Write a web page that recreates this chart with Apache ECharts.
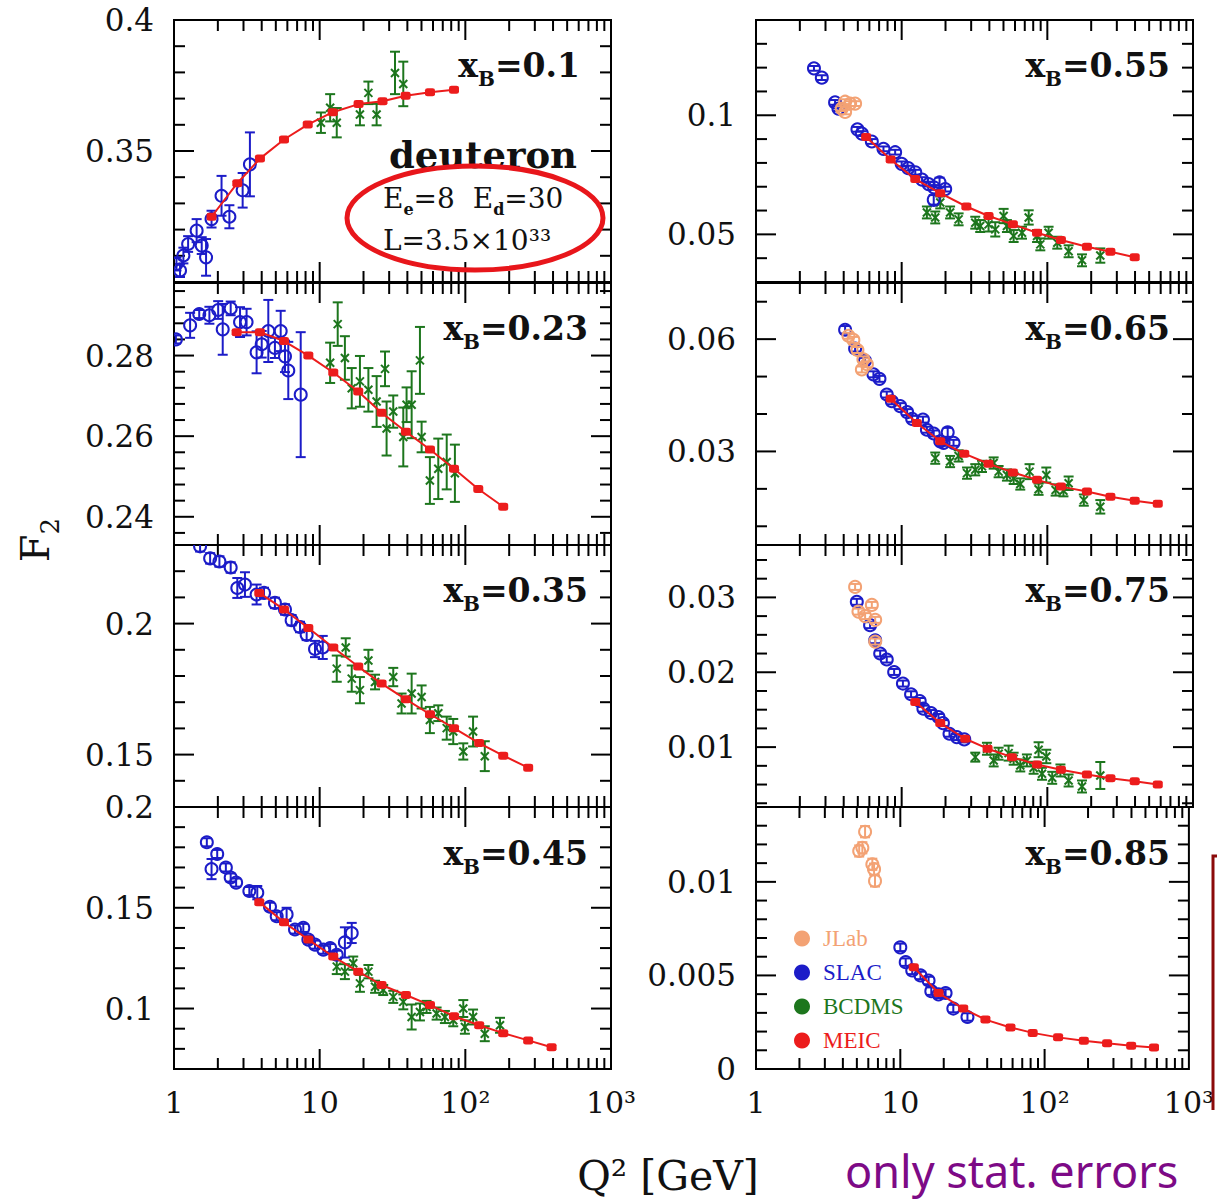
<!DOCTYPE html>
<html><head><meta charset="utf-8">
<script src="https://cdn.jsdelivr.net/npm/echarts@6/dist/echarts.min.js"></script>
<style>html,body{margin:0;padding:0;background:#fff}#c{width:1217px;height:1204px}</style>
</head><body><div id="c"></div><script>
// ---------------- DATA: [Q2, F2, stat.err] ----------------
const xTickLabels = ['1', '10', '10²', '10³'];
const panelNames = ['0.1', '0.23', '0.35', '0.45', '0.55', '0.65', '0.75', '0.85'];

// x_B = 0.1
const meicQ1 = [1.81, 2.72, 3.89, 5.69, 8.28, 12.3, 18.5, 27.0, 38.9, 57.2, 83.6];
const meicF1 = [0.3249, 0.3377, 0.3471, 0.3544, 0.3601, 0.3648, 0.3679, 0.3690, 0.3711, 0.3724, 0.3734];
const slac1 = [[1.04,0.3069,0.0025],[1.10,0.3044,0.0025],[1.16,0.3101,0.003],[1.25,0.3145,0.003],[1.43,0.3196,0.0044],[1.55,0.3139,0.0032],[1.66,0.3094,0.007],[1.81,0.324,0.0032],[2.12,0.3329,0.0076],[2.40,0.3249,0.0044],[2.96,0.335,0.0066],[3.32,0.3449,0.0122]];
const bcdms1 = [[10.2,0.3608,0.0039],[11.8,0.3665,0.0052],[13.1,0.3608,0.0056],[18.9,0.3639,0.0041],[21.6,0.3722,0.0043],[24.6,0.3639,0.0041],[32.9,0.3798,0.0081],[37.5,0.3756,0.0085]];
const jlab1 = [];

// x_B = 0.23
const meicQ2 = [2.69, 3.89, 5.69, 8.36, 12.4, 18.4, 26.6, 39.1, 57.2, 83.6, 122.7, 182];
const meicF2 = [0.2858, 0.2858, 0.2836, 0.2800, 0.2758, 0.2711, 0.2658, 0.2611, 0.2567, 0.2519, 0.2469, 0.2425];
const slac2 = [[1.03,0.2840,0.001],[1.29,0.2875,0.0031],[1.49,0.2903,0.001],[1.75,0.29,0.0021],[2.01,0.2913,0.0022],[2.16,0.2865,0.0063],[2.45,0.2917,0.0017],[2.84,0.2883,0.0037],[3.15,0.2883,0.0033],[3.69,0.2808,0.0052],[4.0,0.2828,0.0033],[4.44,0.2861,0.0077],[4.93,0.2819,0.0025],[5.4,0.2861,0.005],[5.78,0.2798,0.0039],[6.09,0.2763,0.0071],[7.41,0.2703,0.0155]];
const bcdms2 = [[11.8,0.2782,0.005],[13.3,0.2878,0.0054],[14.9,0.2794,0.0054],[16.6,0.2719,0.005],[18.9,0.2736,0.0063],[21.6,0.2715,0.0054],[24.6,0.2686,0.0063],[28.1,0.2767,0.0043],[28.8,0.2619,0.0067],[32,0.2661,0.004],[37.5,0.2598,0.0073],[39.5,0.2678,0.0043],[42.8,0.2678,0.0083],[48.8,0.2788,0.0083],[50.1,0.2598,0.0038],[57.1,0.249,0.0058],[65.2,0.2519,0.0075],[74.5,0.2536,0.0068],[84.8,0.2508,0.0071]];
const jlab2 = [];

// x_B = 0.35
const meicQ3 = [3.85, 5.69, 8.36, 12.4, 18.4, 26.6, 39.1, 57.2, 83.6, 124.5, 182, 270];
const meicF3 = [0.2117, 0.2054, 0.1983, 0.1909, 0.1836, 0.1771, 0.1711, 0.1654, 0.1601, 0.1544, 0.1496, 0.1450];
const slac3 = [[1.51,0.2295,0.002],[1.77,0.2249,0.002],[2.05,0.2237,0.002],[2.45,0.2214,0.002],[2.72,0.2136,0.0038],[3.07,0.2149,0.0047],[3.69,0.2111,0.0038],[4.15,0.2117,0.002],[4.93,0.2079,0.002],[5.78,0.2054,0.002],[6.42,0.2013,0.002],[7.33,0.1987,0.002],[8.14,0.1957,0.002],[9.29,0.1903,0.0031],[10.5,0.1909,0.0044]];
const bcdms3 = [[13.1,0.1828,0.005],[15.1,0.1909,0.0035],[16.6,0.1790,0.005],[18.9,0.1746,0.005],[21.6,0.1859,0.0041],[24.0,0.1777,0.0028],[32,0.1796,0.0035],[36.5,0.1695,0.0038],[42.8,0.1733,0.0076],[50.1,0.1720,0.0044],[57.1,0.1632,0.005],[65.2,0.1658,0.003],[74.5,0.1601,0.0044],[82.6,0.1588,0.0048],[96.8,0.1512,0.0031],[113,0.1588,0.0057],[136,0.1494,0.0057]];
const jlab3 = [];

// x_B = 0.45
const meicQ4 = [3.85, 5.69, 8.36, 12.4, 18.4, 26.6, 39.1, 57.2, 83.6, 124.5, 182, 270, 391];
const meicF4 = [0.1528, 0.1428, 0.1342, 0.1258, 0.1183, 0.1117, 0.1067, 0.1017, 0.0962, 0.0917, 0.0878, 0.0842, 0.0808];
const slac4 = [[1.68,0.1825,0.002],[1.81,0.1692,0.005],[1.98,0.1767,0.002],[2.27,0.17,0.002],[2.45,0.165,0.002],[2.67,0.1625,0.002],[3.29,0.1583,0.002],[3.73,0.1575,0.0033],[4.56,0.1505,0.002],[5.07,0.1458,0.002],[5.93,0.1467,0.0033],[6.77,0.1392,0.002],[7.72,0.14,0.002],[8.36,0.1342,0.002],[9.29,0.1317,0.002],[10.6,0.1292,0.002],[11.8,0.13,0.002],[13.1,0.1267,0.002],[14.9,0.1328,0.0075],[16.6,0.1375,0.005]];
const bcdms4 = [[13.1,0.1208,0.0037],[14.9,0.1183,0.0037],[17.0,0.1225,0.0033],[18.9,0.1125,0.0042],[21.6,0.1183,0.0033],[24.0,0.1108,0.003],[27.3,0.1092,0.0025],[32,0.1058,0.003],[37.5,0.1033,0.0037],[42.8,0.0958,0.0062],[48.8,0.0983,0.0042],[54.2,0.1008,0.003],[63.5,0.0975,0.003],[72.4,0.0958,0.003],[82.6,0.0942,0.003],[96.8,0.1,0.0042],[99.3,0.0908,0.0033],[113,0.0958,0.0037],[136,0.0875,0.0037],[173,0.0917,0.0037]];
const jlab4 = [];

// x_B = 0.55
const meicQ5 = [5.7, 8.4, 12.4, 18.4, 27.8, 39.5, 58, 85, 124, 187, 271, 398];
const meicF5 = [0.0909, 0.0814, 0.0732, 0.0673, 0.0617, 0.0577, 0.0542, 0.0507, 0.0476, 0.0448, 0.0427, 0.0404];
const slac5 = [[2.50,0.1197,0.001],[2.83,0.1158,0.001],[3.49,0.1054,0.001],[3.68,0.1028,0.001],[4.97,0.0941,0.001],[5.33,0.0923,0.001],[6.24,0.089,0.001],[7.50,0.0859,0.001],[9.02,0.0845,0.001],[10.0,0.0796,0.001],[11.1,0.0778,0.001],[12.4,0.0761,0.001],[13.8,0.073,0.001],[15.3,0.0711,0.001],[16.7,0.0697,0.001],[18.2,0.0718,0.002],[19.9,0.069,0.001],[16.6,0.0645,0.002]];
const jlab5 = [[4.09,0.1057,0.001],[4.43,0.1049,0.001],[4.79,0.1049,0.001],[3.88,0.1028,0.001],[4.09,0.1014,0.001]];
const bcdms5 = [[14.9,0.0592,0.0025],[17.0,0.0571,0.0025],[18.4,0.0634,0.0025],[21.5,0.0592,0.0025],[24.6,0.0563,0.0025],[32,0.0549,0.0025],[34.6,0.0535,0.0025],[39.5,0.0542,0.003],[43.9,0.0521,0.003],[50.1,0.0577,0.003],[52.8,0.0535,0.0025],[58.7,0.0493,0.0025],[67,0.0507,0.0025],[74.5,0.0571,0.003],[85,0.0493,0.0025],[89.5,0.0458,0.0025],[102,0.0507,0.0025],[117,0.0465,0.0025],[140,0.0429,0.0025],[173,0.0391,0.0025],[231,0.0411,0.003]];

// x_B = 0.65
const meicQ6 = [8.4, 12.7, 18.4, 26.9, 39.5, 58, 85, 124, 187, 271, 398, 573];
const meicF6 = [0.0441, 0.0376, 0.0327, 0.0294, 0.0267, 0.0244, 0.0224, 0.0206, 0.0193, 0.0179, 0.0168, 0.0160];
const slac6 = [[4.09,0.0625,0.001],[4.79,0.0575,0.0008],[5.6,0.0542,0.0008],[6.40,0.0506,0.0008],[7.04,0.0494,0.0008],[7.90,0.0452,0.0008],[8.56,0.0434,0.0008],[9.77,0.0421,0.0008],[10.9,0.0405,0.0008],[11.8,0.0387,0.0008],[14.0,0.0385,0.0008],[14.9,0.0358,0.0008],[16.6,0.0348,0.0008],[18.4,0.0327,0.0008],[20.7,0.0351,0.0012],[22.7,0.0323,0.0008],[19.4,0.0323,0.0008]];
const jlab6 = [[4.31,0.0609,0.0008],[4.66,0.0598,0.0008],[4.97,0.0571,0.0008],[5.46,0.0546,0.0008],[5.77,0.0533,0.0008],[5.33,0.0519,0.0008]];
const bcdms6 = [[17.0,0.0282,0.0015],[21.5,0.0273,0.0015],[24.6,0.0288,0.0015],[28.1,0.0242,0.0015],[32,0.0251,0.0015],[35.6,0.026,0.0015],[42.8,0.0269,0.0015],[46.3,0.0246,0.0015],[52.8,0.0237,0.0015],[58.7,0.0228,0.0015],[65.2,0.0213,0.0015],[75.5,0.0246,0.002],[87.1,0.0199,0.0015],[98.4,0.0237,0.002],[114,0.0197,0.0015],[129,0.0195,0.0015],[140,0.0215,0.0018],[178,0.017,0.0015],[231,0.0152,0.0018]];

// x_B = 0.75
const meicQ7 = [12.4, 18.4, 27.3, 38.9, 57.2, 85, 124, 187, 271, 398, 573];
const meicF7 = [0.01602, 0.01321, 0.01112, 0.00979, 0.00866, 0.00768, 0.00697, 0.00635, 0.00585, 0.00545, 0.00501];
const slac7 = [[4.92,0.02941,0.0004],[6.07,0.02629,0.0004],[6.58,0.02428,0.0004],[7.12,0.0225,0.0004],[7.90,0.0217,0.0004],[8.88,0.02004,0.0004],[10.2,0.01849,0.0004],[11.6,0.01706,0.0004],[13.3,0.01616,0.0004],[14.1,0.01514,0.0004],[15.9,0.01455,0.0004],[17.9,0.01402,0.0004],[19.2,0.01321,0.0004],[21.3,0.01179,0.0004],[23.9,0.01134,0.0004],[26.9,0.01103,0.0004]];
const jlab7 = [[4.79,0.0314,0.0004],[6.24,0.0290,0.0004],[5.05,0.0281,0.0004],[5.61,0.0275,0.0004],[6.58,0.0270,0.0004],[6.58,0.0241,0.0004]];
const bcdms7 = [[32,0.00866,0.0006],[38.5,0.00978,0.0008],[42.8,0.00822,0.0008],[46.3,0.00912,0.0008],[54.2,0.0092,0.001],[58.7,0.00845,0.0008],[65.2,0.00755,0.0008],[72.4,0.00822,0.0008],[80.5,0.00724,0.0008],[87.1,0.00965,0.001],[91.9,0.00644,0.0008],[98.4,0.00875,0.0009],[108,0.0059,0.0008],[123,0.00688,0.0008],[140,0.00554,0.0008],[173,0.00474,0.0008],[231,0.00621,0.0018]];

// x_B = 0.85
const meicQ8 = [12.4, 18.4, 27.3, 38.9, 58, 82.7, 124, 187, 271, 398, 573];
const meicF8 = [0.00544, 0.00406, 0.00323, 0.00264, 0.00222, 0.00193, 0.00169, 0.00151, 0.00137, 0.00124, 0.00115];
const slac8 = [[10.0,0.0065,0.0002],[10.9,0.00571,0.0002],[12.1,0.00527,0.0002],[13.8,0.005,0.0002],[15.7,0.00473,0.0002],[16.4,0.00416,0.0002],[18.4,0.00399,0.0002],[20.6,0.00406,0.0002],[23.3,0.00323,0.0002],[29.2,0.00278,0.0002]];
const jlab8 = [[5.70,0.01268,0.0003],[5.46,0.01182,0.0003],[5.19,0.01165,0.0003],[6.40,0.01094,0.0003],[6.58,0.01068,0.0003],[6.68,0.01005,0.0003]];
const bcdms8 = [];

// y axis ranges / tick labels per panel
const yMins   = [0.30, 0.233, 0.13, 0.07, 0.03, 0.005, 0.002, 0];
const yMaxs   = [0.40, 0.298, 0.23, 0.20, 0.14, 0.075, 0.037, 0.014];
const yLabels = [['0.35','0.4'], ['0.24','0.26','0.28'], ['0.15','0.2'], ['0.1','0.15','0.2'],
                 ['0.05','0.1'], ['0.03','0.06'], ['0.01','0.02','0.03'], ['0','0.005','0.01']];
const yLabelStep = [0.01, 0.001, 0.01, 0.01, 0.01, 0.005, 0.001, 0.001];
const yTickFrom  = [0.31, 0.236, 0.14, 0.08, 0.04, 0.01, 0.0025, 0.001];
const yTickTo    = [0.39, 0.296, 0.22, 0.19, 0.13, 0.07, 0.035, 0.013];
const yTickStep  = [0.01, 0.004, 0.01, 0.01, 0.01, 0.01, 0.0025, 0.001];
const yMajorStep = [0.05, 0.02, 0.05, 0.05, 0.05, 0.03, 0.01, 0.005];

const meicQ = [meicQ1, meicQ2, meicQ3, meicQ4, meicQ5, meicQ6, meicQ7, meicQ8];
const meicF = [meicF1, meicF2, meicF3, meicF4, meicF5, meicF6, meicF7, meicF8];
const slac  = [slac1, slac2, slac3, slac4, slac5, slac6, slac7, slac8];
const jlab  = [jlab1, jlab2, jlab3, jlab4, jlab5, jlab6, jlab7, jlab8];
const bcdms = [bcdms1, bcdms2, bcdms3, bcdms4, bcdms5, bcdms6, bcdms7, bcdms8];

// ---------------- LAYOUT ----------------
const COL_LEFT = [174, 756], GRID_W = 437;
const ROW_TOP = [20, 283, 545, 807], GRID_H = 262;
const LABEL_RIGHT = [580, 588, 588, 588, 1170, 1170, 1170, 1170];
const LABEL_Y = [65, 328, 590, 853, 65, 328, 590, 853];
const C_SLAC = '#1c1cc8', C_JLAB = '#f3a274', C_BCDMS = '#1d761d', C_MEIC = '#ec1c1c';
const SERIF = 'DejaVu Serif';

function rangeSteps(a, b, s) { const out = []; const n = Math.round((b - a) / s); for (let k = 0; k <= n; k++) out.push(+(a + k * s).toFixed(6)); return out; }
function isMult(v, s) { const r = v / s; return Math.abs(r - Math.round(r)) < 1e-6; }

function tickRender(params, api) {
  const cs = params.coordSys;
  const t = api.value(2), maj = api.value(3);
  const L = maj ? 20 : 11;
  const p = api.coord([api.value(0), api.value(1)]);
  const st = { stroke: '#000', lineWidth: 2 };
  if (t === 0) {
    return { type: 'group', children: [
      { type: 'line', shape: { x1: p[0], y1: cs.y + cs.height, x2: p[0], y2: cs.y + cs.height - L }, style: st },
      { type: 'line', shape: { x1: p[0], y1: cs.y, x2: p[0], y2: cs.y + L }, style: st }] };
  }
  return { type: 'group', children: [
    { type: 'line', shape: { x1: cs.x, y1: p[1], x2: cs.x + L, y2: p[1] }, style: st },
    { type: 'line', shape: { x1: cs.x + cs.width, y1: p[1], x2: cs.x + cs.width - L, y2: p[1] }, style: st }] };
}

function errRender(kind, color) {
  return function (params, api) {
    const x = api.value(0), y = api.value(1), e = api.value(2);
    const p = api.coord([x, y]);
    const pt = api.coord([x, y + e]), pb = api.coord([x, y - e]);
    const cap = 5, st = { stroke: color, lineWidth: 2, fill: 'none' };
    const ch = [
      { type: 'line', shape: { x1: p[0], y1: pt[1], x2: p[0], y2: pb[1] }, style: st },
      { type: 'line', shape: { x1: p[0] - cap, y1: pt[1], x2: p[0] + cap, y2: pt[1] }, style: st },
      { type: 'line', shape: { x1: p[0] - cap, y1: pb[1], x2: p[0] + cap, y2: pb[1] }, style: st }
    ];
    if (kind === 'circle') {
      ch.push({ type: 'circle', shape: { cx: p[0], cy: p[1], r: 6 }, style: { stroke: color, lineWidth: 2, fill: 'none' } });
    } else {
      const d = 4;
      ch.push({ type: 'line', shape: { x1: p[0] - d, y1: p[1] - d, x2: p[0] + d, y2: p[1] + d }, style: st });
      ch.push({ type: 'line', shape: { x1: p[0] - d, y1: p[1] + d, x2: p[0] + d, y2: p[1] - d }, style: st });
    }
    return { type: 'group', children: ch };
  };
}

const grids = [], xAxes = [], yAxes = [], series = [], graphics = [];
for (let i = 0; i < 8; i++) {
  const col = i < 4 ? 0 : 1, row = i % 4;
  grids.push({ left: COL_LEFT[col], top: ROW_TOP[row], width: GRID_W, height: GRID_H,
    show: true, borderColor: '#000', borderWidth: 2, backgroundColor: 'transparent' });
  const bottom = row === 3;
  xAxes.push({ type: 'log', logBase: 10, gridIndex: i, min: 1, max: 1000,
    axisLine: { show: false }, axisTick: { show: false }, splitLine: { show: false },
    axisLabel: { show: bottom, margin: 18, color: '#111', fontFamily: SERIF, fontSize: 30,
      formatter: function (v) { return xTickLabels[Math.round(Math.log10(v))]; } } });
  const labs = yLabels[i];
  yAxes.push({ type: 'value', gridIndex: i, min: yMins[i], max: yMaxs[i], interval: yLabelStep[i],
    axisLine: { show: false }, axisTick: { show: false }, splitLine: { show: false },
    axisLabel: { margin: 20, color: '#111', fontFamily: SERIF, fontSize: 31, showMinLabel: true, showMaxLabel: true,
      formatter: function (v) {
        for (const l of labs) if (Math.abs(parseFloat(l) - v) < 1e-7) return l;
        return '';
      } } });

  // ticks
  const tickData = [];
  for (const d of [1, 10, 100]) for (let k = 2; k <= 10; k++) {
    const v = k * d; if (v >= 1000) continue;
    tickData.push([v, yMins[i], 0, k === 10 ? 1 : 0]);
  }
  for (const v of rangeSteps(yTickFrom[i], yTickTo[i], yTickStep[i]))
    tickData.push([1, v, 1, isMult(v, yMajorStep[i]) ? 1 : 0]);
  series.push({ type: 'custom', name: 'ticks', xAxisIndex: i, yAxisIndex: i, silent: true, z: 1,
    renderItem: tickRender, dimensions: ['x', 'y', 't', 'm'], encode: { x: 0, y: 1 }, data: tickData });

  if (bcdms[i].length) series.push({ type: 'custom', name: 'BCDMS', xAxisIndex: i, yAxisIndex: i, clip: true, z: 2,
    itemStyle: { color: C_BCDMS }, renderItem: errRender('cross', C_BCDMS),
    dimensions: ['x', 'y', 'e'], encode: { x: 0, y: 1 }, data: bcdms[i] });
  if (slac[i].length) series.push({ type: 'custom', name: 'SLAC', xAxisIndex: i, yAxisIndex: i, clip: true, z: 3,
    itemStyle: { color: C_SLAC }, renderItem: errRender('circle', C_SLAC),
    dimensions: ['x', 'y', 'e'], encode: { x: 0, y: 1 }, data: slac[i] });
  if (jlab[i].length) series.push({ type: 'custom', name: 'JLab', xAxisIndex: i, yAxisIndex: i, clip: true, z: 4,
    itemStyle: { color: C_JLAB }, renderItem: errRender('circle', C_JLAB),
    dimensions: ['x', 'y', 'e'], encode: { x: 0, y: 1 }, data: jlab[i] });
  series.push({ type: 'line', name: 'MEIC', xAxisIndex: i, yAxisIndex: i, z: 5,
    data: meicQ[i].map((q, k) => [q, meicF[i][k]]),
    symbol: 'roundRect', symbolSize: [10, 8], showSymbol: true,
    itemStyle: { color: C_MEIC }, lineStyle: { color: C_MEIC, width: 2 } });

  // x_B label
  graphics.push({ type: 'text', x: LABEL_RIGHT[i], y: LABEL_Y[i], z: 10,
    style: { text: '{m|x}{s|B}{m|=' + panelNames[i] + '}', align: 'right', verticalAlign: 'middle',
      rich: { m: { fontFamily: SERIF, fontWeight: 'bold', fontSize: 33, lineHeight: 48, verticalAlign: 'middle', fill: '#111' },
              s: { fontFamily: SERIF, fontWeight: 'bold', fontSize: 20, lineHeight: 48, verticalAlign: 'bottom', fill: '#111' } } } });
}

graphics.push(
  { type: 'text', x: 483, y: 155, z: 10, style: { text: 'deuteron', align: 'center', verticalAlign: 'middle',
      font: 'bold 37px "DejaVu Serif"', fill: '#111' } },
  { type: 'ellipse', z: 10, shape: { cx: 475, cy: 218, rx: 128, ry: 52 }, style: { fill: 'none', stroke: '#e8161b', lineWidth: 5 } },
  { type: 'text', x: 383, y: 198, z: 10, style: { text: '{m|E}{s|e}{m|=8  E}{s|d}{m|=30}', align: 'left', verticalAlign: 'middle',
      rich: { m: { fontFamily: SERIF, fontSize: 28, lineHeight: 38, verticalAlign: 'middle', fill: '#111' },
              s: { fontFamily: SERIF, fontWeight: 'bold', fontSize: 16, lineHeight: 38, verticalAlign: 'bottom', fill: '#111' } } } },
  { type: 'text', x: 383, y: 240, z: 10, style: { text: 'L=3.5×10³³', align: 'left', verticalAlign: 'middle',
      font: '28px "DejaVu Serif"', fill: '#111' } },
  { type: 'text', x: 35, y: 540, rotation: Math.PI / 2, z: 10, style: { text: '{m|F}{s|2}', align: 'center', verticalAlign: 'middle',
      rich: { m: { fontFamily: SERIF, fontSize: 40, lineHeight: 56, verticalAlign: 'middle', fill: '#111' },
              s: { fontFamily: SERIF, fontSize: 26, lineHeight: 56, verticalAlign: 'bottom', fill: '#111' } } } },
  { type: 'text', x: 668, y: 1176, z: 10, style: { text: 'Q² [GeV]', align: 'center', verticalAlign: 'middle',
      font: '41px "DejaVu Serif"', fill: '#111' } },
  { type: 'text', x: 845, y: 1170, z: 10, style: { text: 'only stat. errors', align: 'left', verticalAlign: 'middle',
      font: '45px "Comic Sans MS", "Noto Sans", sans-serif', fill: '#7d0a86' } },
  { type: 'polyline', z: 10, shape: { points: [[1217, 856], [1213, 856], [1213, 1110]] }, style: { stroke: '#8b0a0a', lineWidth: 3, fill: 'none' } }
);

const chart = echarts.init(document.getElementById('c'), null, { renderer: 'svg', width: 1217, height: 1204 });
chart.setOption({
  animation: false,
  backgroundColor: '#fff',
  grid: grids, xAxis: xAxes, yAxis: yAxes, series: series, graphic: graphics,
  legend: { orient: 'vertical', left: 789, top: 922, itemWidth: 16, itemHeight: 16, itemGap: 11, icon: 'circle',
    selectedMode: false,
    textStyle: { fontFamily: 'Liberation Serif', fontSize: 23, padding: [0, 0, 0, 8] },
    data: [
      { name: 'JLab', itemStyle: { color: C_JLAB }, textStyle: { color: C_JLAB } },
      { name: 'SLAC', itemStyle: { color: C_SLAC }, textStyle: { color: C_SLAC } },
      { name: 'BCDMS', itemStyle: { color: C_BCDMS }, textStyle: { color: C_BCDMS } },
      { name: 'MEIC', itemStyle: { color: C_MEIC }, textStyle: { color: C_MEIC } }
    ] }
});
</script></body></html>
